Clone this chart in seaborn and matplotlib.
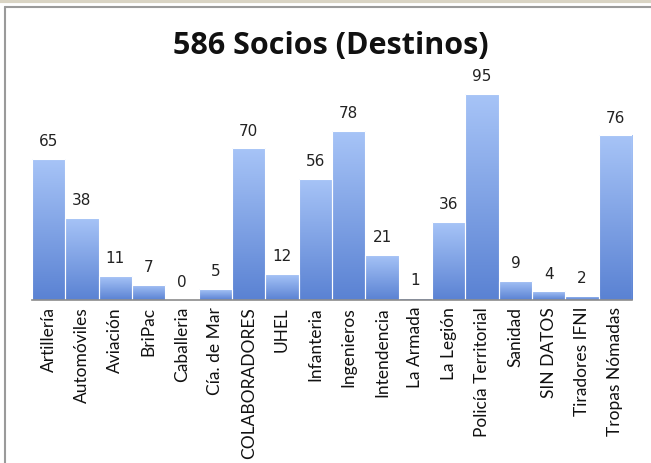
import matplotlib
matplotlib.use("Agg")
import matplotlib.pyplot as plt
import seaborn as sns
import numpy as np
import pandas as pd
from matplotlib.colors import LinearSegmentedColormap
from matplotlib.lines import Line2D

sns.set_style("white")

destinos = ["Artillería", "Automóviles", "Aviación", "BriPac", "Caballeria",
            "Cía. de Mar", "COLABORADORES", "UHEL", "Infanteria", "Ingenieros",
            "Intendencia", "La Armada", "La Legión", "Policía Territorial",
            "Sanidad", "SIN DATOS", "Tiradores IFNI", "Tropas Nómadas"]
socios = [65, 38, 11, 7, 0, 5, 70, 12, 56, 78, 21, 1, 36, 95, 9, 4, 2, 76]

df = pd.DataFrame({"destino": destinos, "socios": socios})

fig = plt.figure(figsize=(6.51, 4.63), dpi=100)
ax = fig.add_axes([0.049, 0.352, 0.922, 0.518])

sns.barplot(data=df, x="destino", y="socios", color="#7fa3e6", width=1.0,
            edgecolor="white", linewidth=0.8, ax=ax)

# gradient fill: light on top, darker at the bottom
cmap = LinearSegmentedColormap.from_list("grad", ["#5a82d3", "#a7c4f7"])
grad = np.linspace(0, 1, 256).reshape(-1, 1)
for p in ax.patches:
    x0, w, h = p.get_x(), p.get_width(), p.get_height()
    if h <= 0:
        continue
    p.set_facecolor("none")
    im = ax.imshow(grad, cmap=cmap, origin="lower", aspect="auto",
                   extent=(x0, x0 + w, 0, h), zorder=p.get_zorder() - 0.1)
    im.set_clip_path(p)
ax.set_xlim(-0.5, len(destinos) - 0.5)
ax.set_ylim(0, 110.7)

for i, v in enumerate(socios):
    ax.annotate(str(v), (i, v), xytext=(0, 7), textcoords="offset points",
                ha="center", va="bottom", fontsize=11, color="#222222",
                family="DejaVu Sans")

ax.set_xlabel("")
ax.set_ylabel("")
ax.set_yticks([])
for s in ["left", "right", "top"]:
    ax.spines[s].set_visible(False)
ax.spines["bottom"].set_color("#8c8c8c")
ax.spines["bottom"].set_linewidth(1.2)
ax.tick_params(axis="x", length=0, pad=5)
plt.setp(ax.get_xticklabels(), rotation=90, ha="center", va="top",
         fontsize=12.5, family="Lato", fontweight="normal", color="#111111")

fig.text(0.508, 0.9, "586 Socios (Destinos)", ha="center", va="center",
         fontsize=22, fontweight="bold", family="Open Sans", color="#111111")

# frame of the original slide
fig.add_artist(Line2D([0.008, 0.008], [0, 0.985], transform=fig.transFigure,
                      color="#9a9a9a", lw=1.5))
fig.add_artist(Line2D([0.008, 1], [0.985, 0.985], transform=fig.transFigure,
                      color="#9a9a9a", lw=1.5))
fig.add_artist(Line2D([0, 1], [0.997, 0.997], transform=fig.transFigure,
                      color="#d9d4c4", lw=3))

fig.savefig("out.png", dpi=100)
